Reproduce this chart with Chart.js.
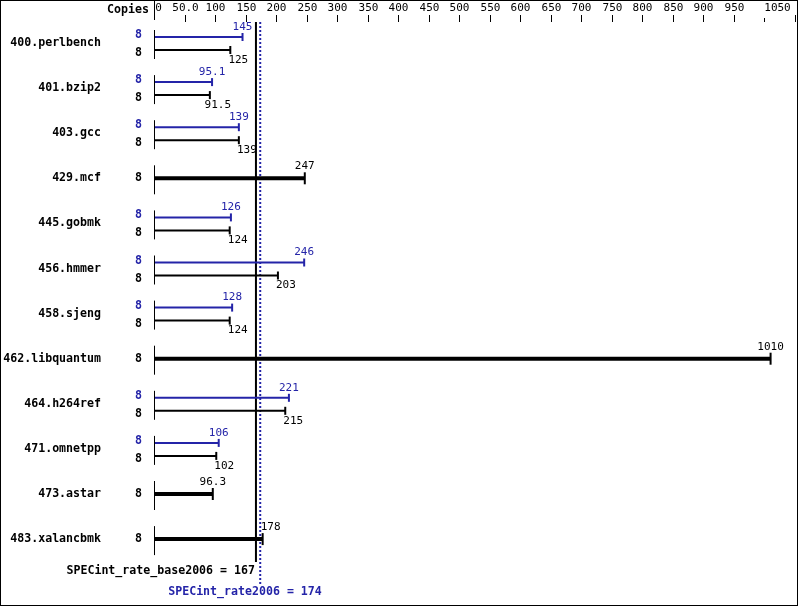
<!DOCTYPE html>
<html><head><meta charset="utf-8">
<script src="https://cdn.jsdelivr.net/npm/chart.js@4"></script>
<style>html,body{margin:0;padding:0;background:#fff}#wrap{width:799px;height:606px}</style>
</head><body><div id="wrap"><canvas id="chart"></canvas></div>
<script>
// benchmark data
const benchmarks = ["400.perlbench", "401.bzip2", "403.gcc", "429.mcf", "445.gobmk", "456.hmmer",
    "458.sjeng", "462.libquantum", "464.h264ref", "471.omnetpp", "473.astar", "483.xalancbmk"];
const peakValues = [145, 95.1, 139, null, 126, 246, 128, null, 221, 106, null, null];
const baseValues = [125, 91.5, 139, 247, 124, 203, 124, 1010, 215, 102, 96.3, 178];
const copies = [8, 8, 8, 8, 8, 8, 8, 8, 8, 8, 8, 8];
const tickValues = [0, 50, 100, 150, 200, 250, 300, 350, 400, 450, 500, 550, 600, 650, 700, 750, 800, 850, 900, 950, 1000, 1050];
const tickLabels = ["0", "50.0", "100", "150", "200", "250", "300", "350", "400", "450", "500", "550", "600", "650", "700", "750", "800", "850", "900", "950", "", "1050"];
const baseScore = 167;
const peakScore = 174;

const BLUE = "#2424a8";
const FONT = "11px 'DejaVu Sans Mono'";
const BOLD = "bold 11.6px 'DejaVu Sans Mono'";

// row centres in pixel units (y axis is 0..606)
function rowY(i) { return 43 + 45.1 * i; }

const datasets = [];
benchmarks.forEach((name, i) => {
    const c = rowY(i);
    if (peakValues[i] === null) {
        datasets.push({ data: [{x: 0, y: c}, {x: baseValues[i], y: c}], borderColor: "#000", borderWidth: 4,
            pointStyle: "line", rotation: 90, pointRadius: [0, 6], pointBorderWidth: 2, pointBorderColor: "#000" });
    } else {
        datasets.push({ data: [{x: 0, y: c - 6}, {x: peakValues[i], y: c - 6}], borderColor: BLUE, borderWidth: 2,
            pointStyle: "line", rotation: 90, pointRadius: [0, 4], pointBorderWidth: 2, pointBorderColor: BLUE });
        datasets.push({ data: [{x: 0, y: c + 7}, {x: baseValues[i], y: c + 7}], borderColor: "#000", borderWidth: 2,
            pointStyle: "line", rotation: 90, pointRadius: [0, 4], pointBorderWidth: 2, pointBorderColor: "#000" });
    }
});
datasets.push({ data: [{x: baseScore, y: 22}, {x: baseScore, y: 562}], borderColor: "#000", borderWidth: 2, pointRadius: 0 });
datasets.push({ data: [{x: peakScore, y: 22}, {x: peakScore, y: 584}], borderColor: BLUE, borderWidth: 2, borderDash: [2, 2], pointRadius: 0 });

const textPlugin = {
    id: "specText",
    afterDraw(chart) {
        const ctx = chart.ctx;
        const xs = chart.scales.x, ys = chart.scales.y;
        const x0 = xs.getPixelForValue(0);
        ctx.save();
        ctx.fillStyle = "#000";
        ctx.strokeStyle = "#000";
        ctx.lineWidth = 1;
        // frame
        ctx.strokeRect(0.5, 0.5, 797, 605);
        // top axis
        ctx.font = BOLD;
        ctx.textAlign = "right";
        ctx.textBaseline = "middle";
        ctx.fillText("Copies", 149, 10);
        ctx.beginPath();
        ctx.moveTo(x0 + 0.5, 0); ctx.lineTo(x0 + 0.5, 20);
        ctx.stroke();
        ctx.font = FONT;
        ctx.textAlign = "center";
        tickValues.forEach((v, k) => {
            const px = Math.round(xs.getPixelForValue(v)) + 0.5;
            if (k > 0) {
                ctx.beginPath();
                ctx.moveTo(px, tickLabels[k] === "" ? 18 : 15); ctx.lineTo(px, 22);
                ctx.stroke();
            }
            if (tickLabels[k] !== "") ctx.fillText(tickLabels[k], k === 0 ? px + 4 : (k === 21 ? px - 18 : px), 8);
        });
        // rows
        benchmarks.forEach((name, i) => {
            const c = rowY(i);
            const yc = ys.getPixelForValue(c);
            ctx.beginPath();
            ctx.moveTo(x0 + 0.5, yc - 13); ctx.lineTo(x0 + 0.5, yc + 16);
            ctx.stroke();
            ctx.font = BOLD;
            ctx.textAlign = "right";
            ctx.fillStyle = "#000";
            ctx.fillText(name, 101, yc);
            if (peakValues[i] === null) {
                ctx.fillText(String(copies[i]), 142, yc);
                ctx.font = FONT;
                ctx.textAlign = "center";
                const px = xs.getPixelForValue(baseValues[i]);
                ctx.fillText(String(baseValues[i]), px + (baseValues[i] === 178 ? 8 : 0), yc - 12);
            } else {
                ctx.fillStyle = BLUE;
                ctx.fillText(String(copies[i]), 142, ys.getPixelForValue(c - 8));
                ctx.fillStyle = "#000";
                ctx.fillText(String(copies[i]), 142, ys.getPixelForValue(c + 10));
                ctx.font = FONT;
                ctx.textAlign = "center";
                ctx.fillStyle = BLUE;
                ctx.fillText(String(peakValues[i]), xs.getPixelForValue(peakValues[i]), ys.getPixelForValue(c - 16));
                ctx.fillStyle = "#000";
                ctx.fillText(String(baseValues[i]), xs.getPixelForValue(baseValues[i]) + 8, ys.getPixelForValue(c + 17));
            }
        });
        // summary scores
        ctx.font = BOLD;
        ctx.textAlign = "right";
        ctx.fillStyle = "#000";
        ctx.fillText("SPECint_rate_base2006 = " + baseScore, xs.getPixelForValue(baseScore) - 1, 571);
        ctx.textAlign = "left";
        ctx.fillStyle = BLUE;
        ctx.fillText("SPECint_rate2006 = " + peakScore, xs.getPixelForValue(peakScore) - 92, 592);
        ctx.restore();
    }
};

new Chart(document.getElementById("chart"), {
    type: "line",
    data: { datasets: datasets },
    plugins: [textPlugin],
    options: {
        responsive: true,
        maintainAspectRatio: false,
        animation: false,
        layout: { autoPadding: false, padding: { left: 154, right: 4, top: 0, bottom: 0 } },
        scales: {
            x: { type: "linear", min: 0, max: 1050, display: false },
            y: { type: "linear", min: 0, max: 606, reverse: true, display: false }
        },
        plugins: { legend: { display: false }, tooltip: { enabled: false } }
    }
});
</script>
</body></html>
